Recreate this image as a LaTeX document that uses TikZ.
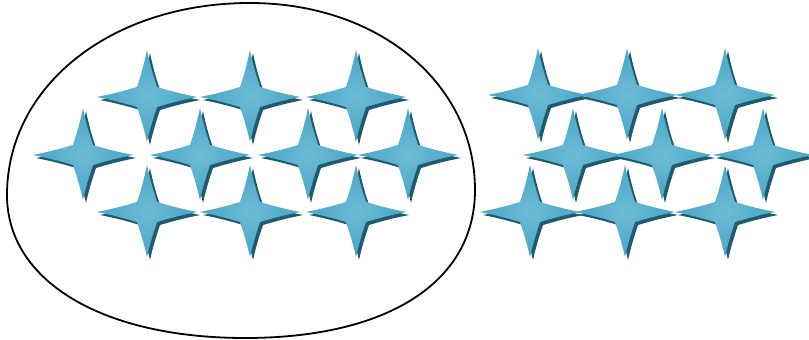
\documentclass[tikz,border=0pt]{standalone}
\definecolor{sparkblue}{HTML}{48A6C5}
\definecolor{sparklight}{HTML}{6DBBD6}
\definecolor{sparkdark}{HTML}{1F5B70}
\newcommand\sparkpath{(50,0) .. controls (25,5) and (14,9) .. (10,10)
  .. controls (9,14) and (5,23) .. (0,45)
  .. controls (-5,23) and (-9,14) .. (-10,10)
  .. controls (-14,9) and (-25,5) .. (-50,0)
  .. controls (-25,-5) and (-14,-9) .. (-10,-10)
  .. controls (-9,-14) and (-5,-23) .. (0,-47)
  .. controls (5,-23) and (9,-14) .. (10,-10)
  .. controls (14,-9) and (25,-5) .. cycle}
\tikzset{
  spark/.pic={
    \fill[sparkdark,shift={(3,3)}] \sparkpath;
    \shade[inner color=sparklight,outer color=sparkblue] \sparkpath;
  }
}
\begin{document}
\begin{tikzpicture}[x=1pt,y=-1pt]
\useasboundingbox (0,0) rectangle (809,340);
% the egg round the first group
\draw[line width=1.8pt] (250,3) .. controls (378,3) and (475,83) .. (475,190)
  .. controls (475,282) and (388,338) .. (245,338)
  .. controls (102,338) and (7,281) .. (7,195)
  .. controls (7,86) and (111,3) .. cycle;
% first group
\foreach \x/\y in {147/97,250/97,356/97,83/155,200/155,308/155,408/155,147/212,250/212,356/212}
  \pic at (\x,\y) {spark};
% second group
\foreach \x/\y in {538/95,627/95,725/95,573/155,662/155,763/155,530/212,625/212,725/212}
  \pic at (\x,\y) {spark};
\end{tikzpicture}
\end{document}
